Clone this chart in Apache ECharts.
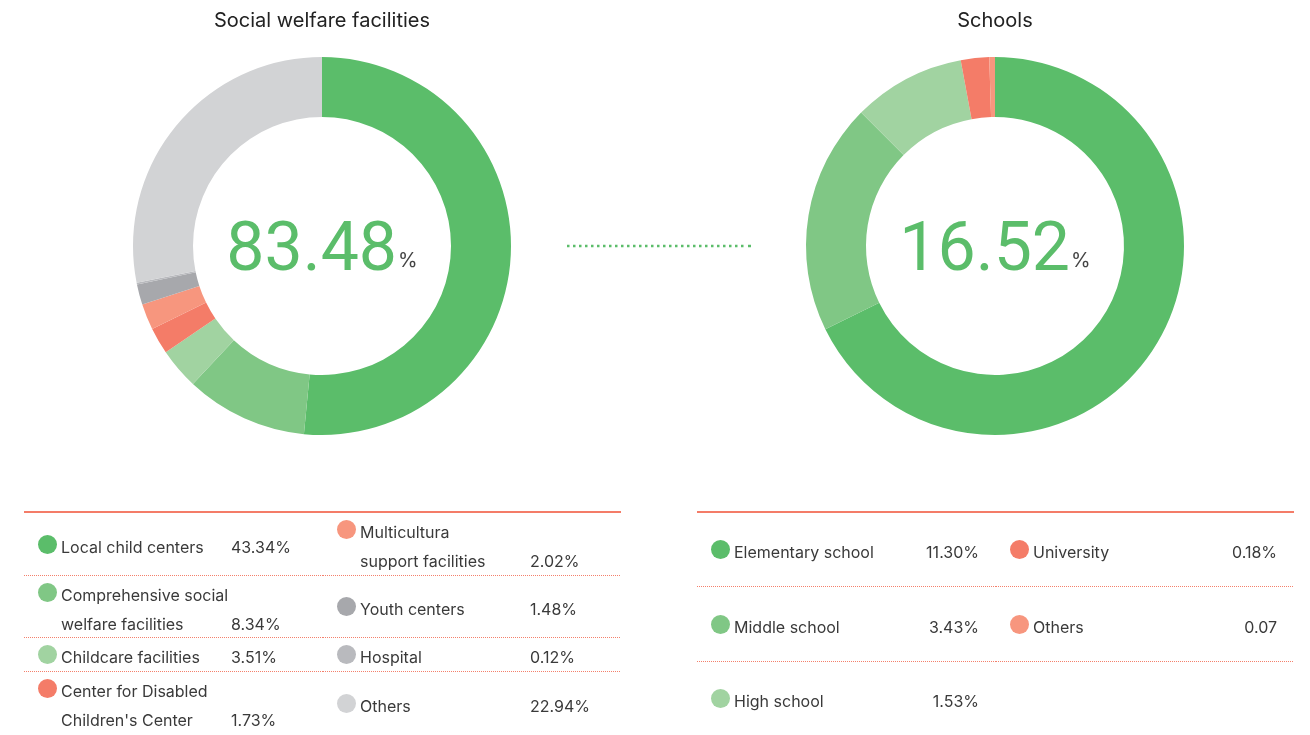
<!DOCTYPE html>
<html>
<head>
<meta charset="utf-8">
<script src="https://cdn.jsdelivr.net/npm/echarts@6/dist/echarts.min.js"></script>
<style>
  body { margin: 0; background: #fff; }
  .wrap { position: relative; width: 1310px; height: 735px; overflow: hidden; font-family: Inter, 'Noto Sans', sans-serif; }
  #chart { position: absolute; left: 0; top: 0; width: 1310px; height: 735px; }
  .tbl {
    position: absolute;
    top: 511px;
    width: 597px;
    border-top: 2px solid #f47c68;
    display: grid;
    grid-template-columns: 299px 298px;
    grid-auto-flow: column;
    color: #3a3a3a;
    font-size: 16px;
  }
  .cell {
    box-sizing: border-box;
    display: flex;
    align-items: center;
    padding-top: 5px;
  }
  .cell.line {
    background-image: linear-gradient(to right, #f4806c 50%, rgba(255, 255, 255, 0) 50%);
    background-size: 2px 1px;
    background-position: left bottom;
    background-repeat: repeat-x;
  }
  .blk { position: relative; width: 100%; box-sizing: border-box; padding-left: 37px; }
  .blk div { line-height: 29px; white-space: nowrap; }
  .dot { position: absolute; left: 14px; top: 2px; width: 19px; height: 19px; border-radius: 50%; }
  .val { position: absolute; bottom: 0; line-height: 29px; }
</style>
</head>
<body>
<div class="wrap">
  <div id="chart"></div>
  <div class="tbl" id="welfareTbl" style="left:24px; grid-template-rows: 63px 62px 34px 63px;"></div>
  <div class="tbl" id="schoolTbl" style="left:697px; grid-template-rows: 74px 75px 73px;"></div>
</div>
<script>
const titles = ['Social welfare facilities', 'Schools']
const totals = ['83.48', '16.52']

const welfareNames = ['Local child centers', 'Comprehensive social\nwelfare facilities', 'Childcare facilities', 'Center for Disabled\nChildren\'s Center', 'Multicultura\nsupport facilities', 'Youth centers', 'Hospital', 'Others']
const welfareValues = [43.02, 8.72, 2.94, 1.90, 1.86, 1.46, 0.12, 23.47]
const welfareLabels = ['43.34%', '8.34%', '3.51%', '1.73%', '2.02%', '1.48%', '0.12%', '22.94%']
const welfareColors = ['#5bbd6a', '#80c785', '#a1d3a1', '#f47c68', '#f7967e', '#a7a8ac', '#b9babe', '#d2d3d5']

const schoolNames = ['Elementary school', 'Middle school', 'High school', 'University', 'Others']
const schoolValues = [11.19, 3.26, 1.59, 0.40, 0.08]
const schoolLabels = ['11.30%', '3.43%', '1.53%', '0.18%', '0.07']
const schoolColors = ['#5bbd6a', '#80c785', '#a1d3a1', '#f47c68', '#f7967e']

const chart = echarts.init(document.getElementById('chart'))

function pieSeries(names, values, colors, cx) {
  return {
    type: 'pie',
    center: [cx, 246],
    radius: [129, 189],
    startAngle: 90,
    clockwise: true,
    silent: true,
    label: { show: false },
    labelLine: { show: false },
    data: names.map((n, i) => ({
      name: n.replace('\n', ' '),
      value: values[i],
      itemStyle: { color: colors[i] }
    }))
  }
}

function centerText(txt, cx) {
  return {
    type: 'text',
    x: cx,
    y: 253,
    style: {
      text: '{v|' + txt + '}{p|%}',
      textAlign: 'center',
      textVerticalAlign: 'middle',
      rich: {
        v: { fontSize: 68, fontFamily: 'Roboto', fill: '#5bbd6a', fontWeight: 400, lineHeight: 80 },
        p: { fontSize: 20, fontFamily: 'Inter', fill: '#444', verticalAlign: 'bottom', lineHeight: 20, padding: [0, 0, 22, 1] }
      }
    }
  }
}

function titleText(txt, cx) {
  return {
    type: 'text',
    x: cx,
    y: 21,
    style: {
      text: txt,
      textAlign: 'center',
      textVerticalAlign: 'middle',
      fontSize: 20,
      fontFamily: 'Inter',
      fill: '#222'
    }
  }
}

const option = {
  animation: false,
  series: [
    pieSeries(welfareNames, welfareValues, welfareColors, 322),
    pieSeries(schoolNames, schoolValues, schoolColors, 995)
  ],
  graphic: [
    titleText(titles[0], 322),
    titleText(titles[1], 995),
    centerText(totals[0], 322),
    centerText(totals[1], 995),
    {
      type: 'line',
      shape: { x1: 567, y1: 246, x2: 744, y2: 246 },
      style: { stroke: '#5bbd6a', lineWidth: 2.5, lineDash: [2.5, 3.5] }
    },
    {
      type: 'line',
      shape: { x1: 748, y1: 246, x2: 751, y2: 246 },
      style: { stroke: '#5bbd6a', lineWidth: 2.5 }
    }
  ]
}
chart.setOption(option)

// legend tables
function buildTable(el, names, labels, colors, rows, alignRight) {
  names.forEach((n, i) => {
    const cell = document.createElement('div')
    const row = i % rows
    cell.className = 'cell' + (row < rows - 1 && !(alignRight && i >= rows * 2 - 1) ? ' line' : '')
    const blk = document.createElement('div')
    blk.className = 'blk'
    const dot = document.createElement('span')
    dot.className = 'dot'
    dot.style.background = colors[i]
    blk.appendChild(dot)
    n.split('\n').forEach(t => {
      const d = document.createElement('div')
      d.textContent = t
      blk.appendChild(d)
    })
    const v = document.createElement('span')
    v.className = 'val'
    v.textContent = labels[i]
    if (alignRight) v.style.right = '17px'
    else v.style.left = '207px'
    blk.appendChild(v)
    cell.appendChild(blk)
    el.appendChild(cell)
  })
}
buildTable(document.getElementById('welfareTbl'), welfareNames, welfareLabels, welfareColors, 4, false)
buildTable(document.getElementById('schoolTbl'), schoolNames, schoolLabels, schoolColors, 3, true)
</script>
</body>
</html>
